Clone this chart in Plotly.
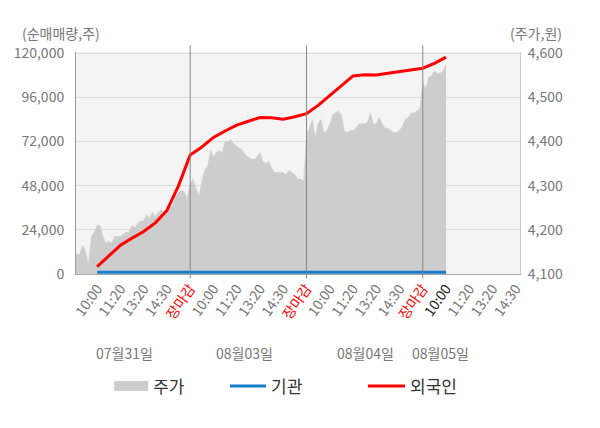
import plotly.graph_objects as go

FONT = "Noto Sans CJK KR"

DATES = ["07월31일", "08월03일", "08월04일", "08월05일"]
SESSION_TICKS = ["10:00", "11:20", "13:20", "14:30", "장마감"]
CURRENT_TICK = 15  # 08월05일 10:00 (현재)

# 주가(원): 하루 09:00부터 1/8 눈금 간격으로 읽은 값
PRICE_STEP = 0.125
PRICE_0731 = [4145, 4145, 4145, 4165, 4150, 4120, 4185, 4195, 4210, 4210,
              4185, 4170, 4175, 4170, 4185, 4185, 4185, 4190, 4195, 4195,
              4210, 4205, 4215, 4220, 4220, 4235, 4225, 4240, 4230, 4240,
              4245, 4240, 4245, 4250, 4255, 4275, 4285, 4290, 4285, 4270]
PRICE_0803 = [4305, 4315, 4295, 4275, 4310, 4335, 4345, 4380, 4365, 4375,
              4380, 4375, 4400, 4400, 4405, 4395, 4390, 4385, 4380, 4370,
              4365, 4360, 4360, 4365, 4375, 4355, 4350, 4355, 4340, 4330,
              4330, 4330, 4330, 4325, 4335, 4330, 4325, 4315, 4315, 4310]
PRICE_0804 = [4415, 4430, 4450, 4410, 4440, 4450, 4420, 4425, 4440, 4460,
              4465, 4470, 4460, 4425, 4420, 4425, 4425, 4430, 4440, 4440,
              4440, 4445, 4465, 4440, 4440, 4455, 4440, 4430, 4430, 4425,
              4420, 4420, 4425, 4435, 4450, 4455, 4465, 4465, 4470, 4475]
PRICE_0805 = [4535, 4520, 4545, 4550, 4560, 4555, 4555, 4560, 4575]

# 순매매량 누적(주): 첫 10:00부터 0.5 눈금 간격
FLOW_STEP = 0.5
FOREIGN = [4000, 9600, 15600, 19500, 23100, 27800, 34500, 48000, 64600, 69000,
           74200, 77700, 80900, 83000, 85000, 84900, 84100, 85400, 87100, 91600,
           96800, 102200, 107600, 108300, 108100, 109000, 109900, 110800, 111800, 114400,
           117800]
INSTITUTION = [900, 900, 900, 900, 900, 900, 900, 900, 900, 900,
               900, 900, 900, 900, 900, 900, 900, 900, 900, 900,
               900, 900, 900, 900, 900, 900, 900, 900, 900, 900,
               900]

LEFT_TICKS = [0, 24000, 48000, 72000, 96000, 120000]
RIGHT_TICKS = [4100, 4200, 4300, 4400, 4500, 4600]

PRICE_COLOR = "#cdcdcd"
INST_COLOR = "#167dcd"
FOREIGN_COLOR = "#ff0000"


def build_price_xy():
    xs, ys = [], []
    for day, prices in enumerate([PRICE_0731, PRICE_0803, PRICE_0804, PRICE_0805]):
        start = day * len(SESSION_TICKS) - 1
        for k, p in enumerate(prices):
            xs.append(start + k * PRICE_STEP)
            ys.append(p)
    return xs, ys


def build_ticks():
    vals, texts = [], []
    i = 0
    for day in range(len(DATES)):
        labels = SESSION_TICKS if day < len(DATES) - 1 else SESSION_TICKS[:-1]
        for lab in labels:
            if lab == "장마감":
                txt = '<span style="color:#ff0000">%s</span>' % lab
            elif i == CURRENT_TICK:
                txt = '<span style="color:#222222">%s</span>' % lab
            else:
                txt = lab
            vals.append(i)
            texts.append(txt)
            i += 1
    return vals, texts


price_x, price_y = build_price_xy()
flow_x = [k * FLOW_STEP for k in range(len(FOREIGN))]
tick_vals, tick_text = build_ticks()

fig = go.Figure()

# 주가 영역 (범례는 별도 항목으로 굵은 상자 표시)
fig.add_trace(go.Scatter(
    x=price_x, y=price_y, name="주가", mode="lines",
    line=dict(color=PRICE_COLOR, width=0.5), fill="tozeroy", fillcolor=PRICE_COLOR,
    xaxis="x", yaxis="y", showlegend=False, hoverinfo="skip",
))
fig.add_trace(go.Scatter(
    x=[None], y=[None], name="주가", mode="lines",
    line=dict(color=PRICE_COLOR, width=13),
    xaxis="x", yaxis="y", legend="legend", showlegend=True,
))
fig.add_trace(go.Scatter(
    x=flow_x, y=INSTITUTION, name="기관", mode="lines",
    line=dict(color=INST_COLOR, width=3),
    xaxis="x", yaxis="y2", legend="legend2", showlegend=True,
))
fig.add_trace(go.Scatter(
    x=flow_x, y=FOREIGN, name="외국인", mode="lines",
    line=dict(color=FOREIGN_COLOR, width=3),
    xaxis="x", yaxis="y2", legend="legend3", showlegend=True,
))

# 장마감 구분선
for day in range(len(DATES) - 1):
    xpos = day * len(SESSION_TICKS) + 4
    fig.add_shape(type="line", xref="x", yref="paper", x0=xpos, x1=xpos,
                  y0=-0.02, y1=1.03, line=dict(color="#888888", width=1))

# 날짜 라벨
for xpos, d in zip([1.16, 6.32, 11.52, 14.75], DATES):
    fig.add_annotation(x=xpos, y=-0.356, xref="x", yref="paper", text=d,
                       xanchor="center", yanchor="middle",
                       showarrow=False, font=dict(size=14, color="#777777"))

fig.add_annotation(x=-0.034, y=1.086, xref="paper", yref="paper", text="(순매매량,주)",
                   xanchor="center", yanchor="middle",
                   showarrow=False, font=dict(size=14, color="#777777"))
fig.add_annotation(x=1.035, y=1.086, xref="paper", yref="paper", text="(주가,원)",
                   xanchor="center", yanchor="middle",
                   showarrow=False, font=dict(size=14, color="#777777"))

legend_common = dict(orientation="h", xref="container", yref="container",
                     yanchor="middle", y=0.097, xanchor="left",
                     font=dict(size=17, color="#333333"), bgcolor="rgba(0,0,0,0)")

fig.update_layout(
    width=600, height=428,
    showlegend=True,
    margin=dict(l=76, r=80, t=52, b=154, autoexpand=False),
    paper_bgcolor="white", plot_bgcolor="#f4f4f4",
    font=dict(family=FONT, size=14, color="#777777"),
    xaxis=dict(range=[-0.91, 18.18], tickmode="array", tickvals=tick_vals, ticktext=tick_text,
               tickangle=-55, showgrid=False, zeroline=False, showline=True, automargin=False,
               linecolor="#aaaaaa", ticks="", tickfont=dict(size=14, color="#777777")),
    yaxis=dict(side="right", range=[4100, 4603], tickmode="array", tickvals=RIGHT_TICKS,
               tickformat=",", showgrid=False, zeroline=False, showline=True, automargin=False,
               linecolor="#cccccc", ticks="", ticklabelstandoff=4),
    yaxis2=dict(side="left", overlaying="y", range=[0, 120600], tickmode="array",
                tickvals=LEFT_TICKS, tickformat=",", showgrid=True, gridcolor="#dddddd",
                zeroline=True, zerolinecolor="#aaaaaa", showline=True, linecolor="#999999",
                ticks="", automargin=False, ticklabelstandoff=8),
    legend=dict(legend_common, x=0.182, itemwidth=34),
    legend2=dict(legend_common, x=0.375, itemwidth=36),
    legend3=dict(legend_common, x=0.605, itemwidth=37),
)

fig.write_html("out.html", config={"displayModeBar": False},
               post_script="document.body.style.margin='0';")
